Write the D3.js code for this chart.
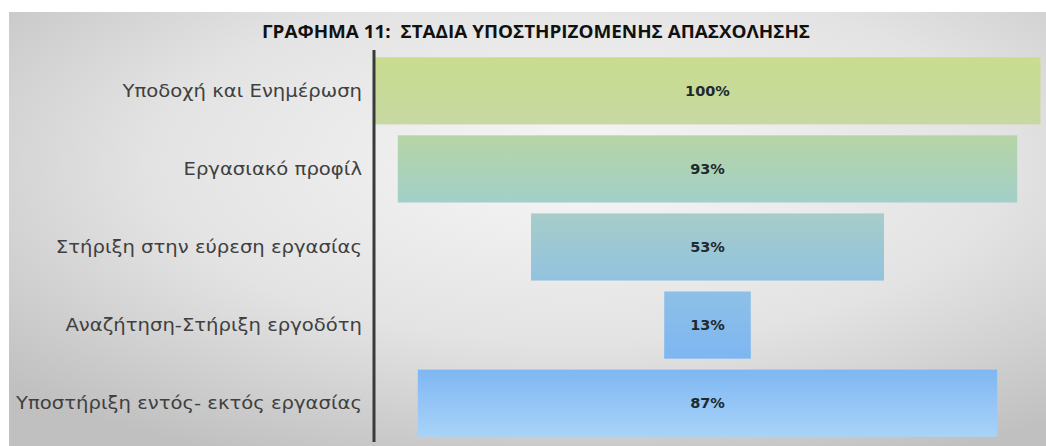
<!DOCTYPE html>
<html>
<head>
<meta charset="utf-8">
<script src="https://cdn.jsdelivr.net/npm/d3@7"></script>
<style>
	html, body { margin: 0; padding: 0; background: #ffffff; }
	svg { display: block; }
</style>
</head>
<body>
<svg id="chart" width="1046" height="446"></svg>
<script>
// stages of the funnel, top to bottom
const stages = [
	'Υποδοχή και Ενημέρωση',
	'Εργασιακό προφίλ',
	'Στήριξη στην εύρεση εργασίας',
	'Αναζήτηση-Στήριξη εργοδότη',
	'Υποστήριξη εντός- εκτός εργασίας'
];
const percents = [100, 93, 53, 13, 87];
const valueLabels = ['100%', '93%', '53%', '13%', '87%'];
const chartTitle = 'ΓΡΑΦΗΜΑ 11:  ΣΤΑΔΙΑ ΥΠΟΣΤΗΡΙΖΟΜΕΝΗΣ ΑΠΑΣΧΟΛΗΣΗΣ';

// top / bottom colours of each bar
const barTop = ['#c9dc8e', '#b6d5a6', '#a6cdc9', '#8ec0e6', '#7fb7f3'];
const barBottom = ['#c7d9a2', '#a2cfc8', '#92c2df', '#7db6f2', '#a9d3f8'];

const width = 1046;
const height = 446;
const axisX = 374;
const centerX = 707.5;

const svg = d3.select('#chart');
const defs = svg.append('defs');

//-- background --//

const bgGrad = defs.append('radialGradient')
	.attr('id', 'bg-grad')
	.attr('cx', '0.55').attr('cy', '0.35').attr('r', '0.75');
bgGrad.append('stop').attr('offset', '0').attr('stop-color', '#f6f6f6');
bgGrad.append('stop').attr('offset', '0.55').attr('stop-color', '#e3e3e3');
bgGrad.append('stop').attr('offset', '1').attr('stop-color', '#c0c0c0');

svg.append('rect')
	.attr('x', 9).attr('y', 12)
	.attr('width', width - 9).attr('height', height - 12)
	.style('fill', 'url(#bg-grad)');

//-- scales --//

const yScale = d3.scaleBand()
	.domain(stages)
	.range([50, 442])
	.paddingInner(0.14)
	.paddingOuter(0.08);

const halfWidth = d3.scaleLinear()
	.domain([0, 100])
	.range([0, 333]);

//-- bars --//

stages.forEach(function(s, i) {
	const g = defs.append('linearGradient')
		.attr('id', 'bar-grad-' + i)
		.attr('x1', 0).attr('y1', 0).attr('x2', 0).attr('y2', 1);
	g.append('stop').attr('offset', '0').attr('stop-color', barTop[i]);
	g.append('stop').attr('offset', '1').attr('stop-color', barBottom[i]);
});

svg.append('g')
	.selectAll('rect')
	.data(stages)
	.join('rect')
	.attr('x', function(d, i) { return centerX - halfWidth(percents[i]); })
	.attr('y', function(d) { return yScale(d) + 1; })
	.attr('width', function(d, i) { return 2 * halfWidth(percents[i]); })
	.attr('height', yScale.bandwidth())
	.style('fill', function(d, i) { return 'url(#bar-grad-' + i + ')'; });

svg.append('g')
	.selectAll('text')
	.data(stages)
	.join('text')
	.attr('x', centerX)
	.attr('y', function(d) { return yScale(d) + 1 + yScale.bandwidth() / 2; })
	.attr('dy', '0.36em')
	.attr('text-anchor', 'middle')
	.style('font-family', '"DejaVu Sans", Verdana, sans-serif')
	.style('font-weight', 'bold')
	.style('font-size', '14.5px')
	.style('fill', '#1e2a30')
	.text(function(d, i) { return valueLabels[i]; });

//-- category axis --//

const axis = svg.append('g')
	.attr('transform', 'translate(' + axisX + ',0)')
	.call(d3.axisLeft(yScale).tickSize(0).tickPadding(12));

axis.select('.domain').remove();
axis.append('line')
	.attr('x1', 0).attr('x2', 0)
	.attr('y1', 50).attr('y2', 442)
	.style('stroke', '#3a3a3a')
	.style('stroke-width', 3);

// the original font is wider than DejaVu, so stretch the labels a little
axis.selectAll('.tick text')
	.style('font-family', '"DejaVu Sans", Verdana, sans-serif')
	.style('font-size', '17.5px')
	.style('fill', '#404040')
	.attr('dy', '0.4em')
	.each(function() {
		const len = this.getComputedTextLength();
		d3.select(this)
			.attr('textLength', len * 1.12)
			.attr('lengthAdjust', 'spacingAndGlyphs');
	});

//-- title --//

svg.append('text')
	.attr('x', 536)
	.attr('y', 38)
	.attr('text-anchor', 'middle')
	.attr('textLength', 548)
	.attr('lengthAdjust', 'spacingAndGlyphs')
	.style('white-space', 'pre')
	.style('font-family', '"Liberation Sans Narrow", "Open Sans", sans-serif')
	.style('font-weight', 'bold')
	.style('font-size', '17px')
	.style('fill', '#111111')
	.text(chartTitle);
</script>
</body>
</html>
